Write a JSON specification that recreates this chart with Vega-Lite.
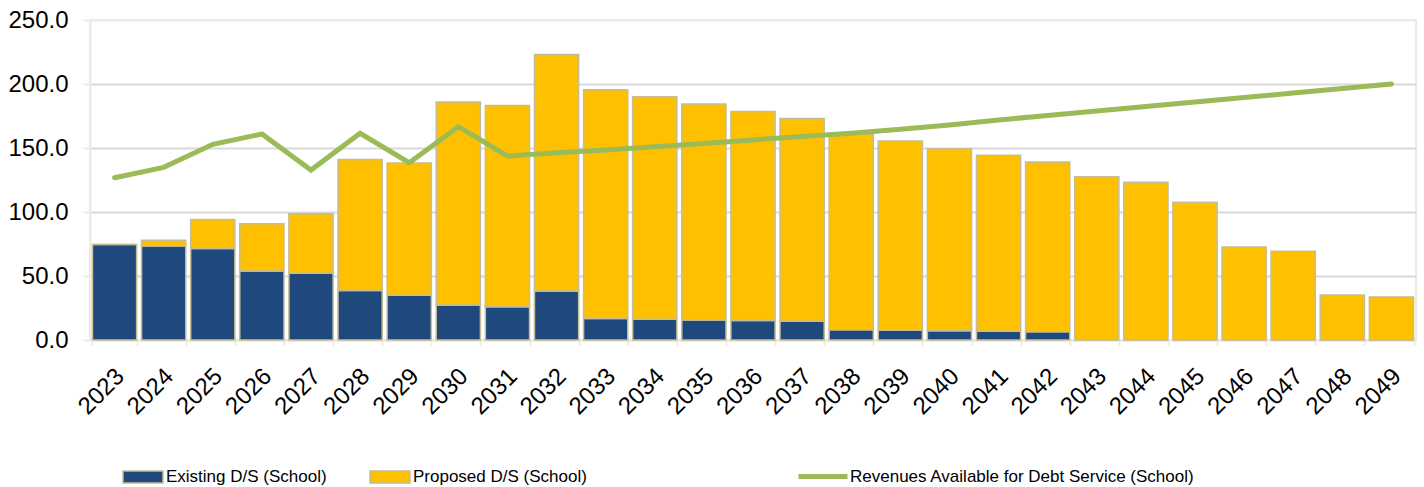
{
  "$schema": "https://vega.github.io/schema/vega-lite/v6.json",
  "width": 1326,
  "height": 320,
  "autosize": "none",
  "padding": {"left": 90, "top": 20, "right": 8, "bottom": 147},
  "background": "white",
  "config": {
    "view": {"stroke": "#EEECE1", "strokeWidth": 2},
    "axis": {"labelFont": "Liberation Sans", "labelFontSize": 24, "labelColor": "#000000", "domainColor": "#EEECE1", "domainWidth": 2, "tickColor": "#EEECE1", "tickWidth": 2, "title": null}
  },
  "datasets": {
    "bars": [
      {"year": "2023", "series": "Existing D/S (School)", "value": 74.7},
      {"year": "2024", "series": "Existing D/S (School)", "value": 73.4},
      {"year": "2025", "series": "Existing D/S (School)", "value": 71.4},
      {"year": "2026", "series": "Existing D/S (School)", "value": 54.0},
      {"year": "2027", "series": "Existing D/S (School)", "value": 52.1},
      {"year": "2028", "series": "Existing D/S (School)", "value": 38.6},
      {"year": "2029", "series": "Existing D/S (School)", "value": 35.0},
      {"year": "2030", "series": "Existing D/S (School)", "value": 27.4},
      {"year": "2031", "series": "Existing D/S (School)", "value": 25.9},
      {"year": "2032", "series": "Existing D/S (School)", "value": 38.3},
      {"year": "2033", "series": "Existing D/S (School)", "value": 16.7},
      {"year": "2034", "series": "Existing D/S (School)", "value": 16.2},
      {"year": "2035", "series": "Existing D/S (School)", "value": 15.7},
      {"year": "2036", "series": "Existing D/S (School)", "value": 15.2},
      {"year": "2037", "series": "Existing D/S (School)", "value": 14.7},
      {"year": "2038", "series": "Existing D/S (School)", "value": 8.1},
      {"year": "2039", "series": "Existing D/S (School)", "value": 7.7},
      {"year": "2040", "series": "Existing D/S (School)", "value": 7.2},
      {"year": "2041", "series": "Existing D/S (School)", "value": 6.9},
      {"year": "2042", "series": "Existing D/S (School)", "value": 6.4},
      {"year": "2043", "series": "Existing D/S (School)", "value": 0},
      {"year": "2044", "series": "Existing D/S (School)", "value": 0},
      {"year": "2045", "series": "Existing D/S (School)", "value": 0},
      {"year": "2046", "series": "Existing D/S (School)", "value": 0},
      {"year": "2047", "series": "Existing D/S (School)", "value": 0},
      {"year": "2048", "series": "Existing D/S (School)", "value": 0},
      {"year": "2049", "series": "Existing D/S (School)", "value": 0},
      {"year": "2023", "series": "Proposed D/S (School)", "value": 0},
      {"year": "2024", "series": "Proposed D/S (School)", "value": 4.5},
      {"year": "2025", "series": "Proposed D/S (School)", "value": 22.7},
      {"year": "2026", "series": "Proposed D/S (School)", "value": 36.8},
      {"year": "2027", "series": "Proposed D/S (School)", "value": 46.6},
      {"year": "2028", "series": "Proposed D/S (School)", "value": 102.5},
      {"year": "2029", "series": "Proposed D/S (School)", "value": 103.2},
      {"year": "2030", "series": "Proposed D/S (School)", "value": 158.5},
      {"year": "2031", "series": "Proposed D/S (School)", "value": 157.4},
      {"year": "2032", "series": "Proposed D/S (School)", "value": 184.7},
      {"year": "2033", "series": "Proposed D/S (School)", "value": 178.8},
      {"year": "2034", "series": "Proposed D/S (School)", "value": 173.9},
      {"year": "2035", "series": "Proposed D/S (School)", "value": 168.6},
      {"year": "2036", "series": "Proposed D/S (School)", "value": 163.4},
      {"year": "2037", "series": "Proposed D/S (School)", "value": 158.3},
      {"year": "2038", "series": "Proposed D/S (School)", "value": 153.1},
      {"year": "2039", "series": "Proposed D/S (School)", "value": 147.8},
      {"year": "2040", "series": "Proposed D/S (School)", "value": 142.3},
      {"year": "2041", "series": "Proposed D/S (School)", "value": 137.4},
      {"year": "2042", "series": "Proposed D/S (School)", "value": 132.7},
      {"year": "2043", "series": "Proposed D/S (School)", "value": 127.5},
      {"year": "2044", "series": "Proposed D/S (School)", "value": 123.3},
      {"year": "2045", "series": "Proposed D/S (School)", "value": 107.7},
      {"year": "2046", "series": "Proposed D/S (School)", "value": 72.6},
      {"year": "2047", "series": "Proposed D/S (School)", "value": 69.4},
      {"year": "2048", "series": "Proposed D/S (School)", "value": 35.1},
      {"year": "2049", "series": "Proposed D/S (School)", "value": 33.5}
    ],
    "rev": [
      {"year": "2023", "series": "Revenues Available for Debt Service (School)", "value": 126.8},
      {"year": "2024", "series": "Revenues Available for Debt Service (School)", "value": 134.9},
      {"year": "2025", "series": "Revenues Available for Debt Service (School)", "value": 152.9},
      {"year": "2026", "series": "Revenues Available for Debt Service (School)", "value": 160.9},
      {"year": "2027", "series": "Revenues Available for Debt Service (School)", "value": 132.8},
      {"year": "2028", "series": "Revenues Available for Debt Service (School)", "value": 161.5},
      {"year": "2029", "series": "Revenues Available for Debt Service (School)", "value": 138.5},
      {"year": "2030", "series": "Revenues Available for Debt Service (School)", "value": 166.7},
      {"year": "2031", "series": "Revenues Available for Debt Service (School)", "value": 143.8},
      {"year": "2032", "series": "Revenues Available for Debt Service (School)", "value": 146.3},
      {"year": "2033", "series": "Revenues Available for Debt Service (School)", "value": 148.4},
      {"year": "2034", "series": "Revenues Available for Debt Service (School)", "value": 151.0},
      {"year": "2035", "series": "Revenues Available for Debt Service (School)", "value": 153.6},
      {"year": "2036", "series": "Revenues Available for Debt Service (School)", "value": 156.3},
      {"year": "2037", "series": "Revenues Available for Debt Service (School)", "value": 158.9},
      {"year": "2038", "series": "Revenues Available for Debt Service (School)", "value": 161.5},
      {"year": "2039", "series": "Revenues Available for Debt Service (School)", "value": 164.6},
      {"year": "2040", "series": "Revenues Available for Debt Service (School)", "value": 167.9},
      {"year": "2041", "series": "Revenues Available for Debt Service (School)", "value": 171.9},
      {"year": "2042", "series": "Revenues Available for Debt Service (School)", "value": 175.4},
      {"year": "2043", "series": "Revenues Available for Debt Service (School)", "value": 178.9},
      {"year": "2044", "series": "Revenues Available for Debt Service (School)", "value": 182.4},
      {"year": "2045", "series": "Revenues Available for Debt Service (School)", "value": 185.9},
      {"year": "2046", "series": "Revenues Available for Debt Service (School)", "value": 189.4},
      {"year": "2047", "series": "Revenues Available for Debt Service (School)", "value": 192.9},
      {"year": "2048", "series": "Revenues Available for Debt Service (School)", "value": 196.5},
      {"year": "2049", "series": "Revenues Available for Debt Service (School)", "value": 200.0}
    ]
  },
  "encoding": {
    "x": {
      "field": "year", "type": "ordinal",
      "scale": {"paddingInner": 0.1, "paddingOuter": 0.05},
      "axis": {"labelAngle": -45, "tickBand": "extent", "tickSize": 6, "grid": false, "labelPadding": 18, "labelOffset": -3}
    },
    "y": {
      "field": "value", "type": "quantitative",
      "scale": {"domain": [0, 250], "nice": false},
      "axis": {
        "values": [0, 50, 100, 150, 200, 250], "format": ".1f",
        "tickSize": 7, "labelPadding": 15,
        "gridColor": {"condition": {"test": "datum.value == 250", "value": "#EEECE1"}, "value": "#D9D9D9"},
        "gridWidth": 2
      }
    }
  },
  "layer": [
    {
      "data": {"name": "bars"},
      "mark": {"type": "bar", "stroke": "#C4BD97", "strokeWidth": 1.5},
      "encoding": {
        "color": {
          "field": "series", "type": "nominal",
          "scale": {"domain": ["Existing D/S (School)", "Proposed D/S (School)"], "range": ["#1F497D", "#FFC000"]},
          "legend": {
            "orient": "none", "legendX": 32, "legendY": 436, "direction": "horizontal",
            "title": null, "symbolType": "M-1,-0.3H1V0.3H-1Z", "symbolSize": 1600,
            "labelFont": "Liberation Sans", "labelFontSize": 17, "labelColor": "#000000",
            "labelOffset": 2, "columnPadding": 40, "padding": 0, "labelLimit": 0,
            "encode": {"symbols": {"update": {"stroke": {"value": "#C4BD97"}, "strokeWidth": {"value": 1}}}}
          }
        },
        "order": {"field": "series", "sort": "ascending"}
      }
    },
    {
      "data": {"name": "rev"},
      "mark": {"type": "line", "strokeWidth": 5, "strokeCap": "round"},
      "encoding": {
        "stroke": {
          "field": "series", "type": "nominal",
          "scale": {"range": ["#9BBB59"]},
          "legend": {
            "orient": "none", "legendX": 706, "legendY": 429.5, "direction": "horizontal",
            "title": null, "symbolType": "stroke", "symbolSize": 2401, "symbolStrokeWidth": 5,
            "labelFont": "Liberation Sans", "labelFontSize": 17, "labelColor": "#000000",
            "labelOffset": 0, "padding": 0, "labelLimit": 0
          }
        }
      }
    }
  ]
}
